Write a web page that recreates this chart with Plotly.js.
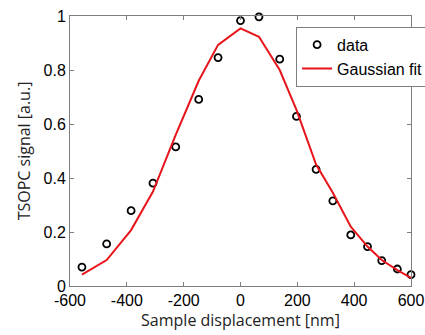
<!DOCTYPE html>
<html><head><meta charset="utf-8">
<script src="https://cdn.plot.ly/plotly-3.0.1.min.js"></script>
<style>html,body{margin:0;padding:0;background:#fff;}#chart{width:425px;height:335px;}</style>
</head><body><div id="chart"></div>
<script>
const dataX = [-558, -471, -385, -308, -228, -147, -79, 0, 65, 138, 197, 266, 325, 388, 447, 497, 552, 600];
const dataY = [0.07, 0.156, 0.279, 0.381, 0.515, 0.691, 0.846, 0.983, 0.997, 0.84, 0.628, 0.432, 0.315, 0.189, 0.146, 0.094, 0.063, 0.042];
const fitX = [-558, -471, -385, -308, -228, -147, -79, 0, 65, 138, 197, 266, 325, 388, 447, 497, 552, 600];
const fitY = [0.042, 0.096, 0.207, 0.35, 0.56, 0.76, 0.893, 0.954, 0.923, 0.80, 0.652, 0.45, 0.345, 0.22, 0.146, 0.096, 0.059, 0.03];
const xTicks = [-600, -400, -200, 0, 200, 400, 600];
const yTicks = [0, 0.2, 0.4, 0.6, 0.8, 1];

const traces = [
  {x: dataX, y: dataY, mode: 'markers', name: 'data', type: 'scatter', cliponaxis: false,
   marker: {symbol: 'circle-open', size: 7, color: '#000', line: {width: 1.8, color: '#000'}}},
  {x: fitX, y: fitY, mode: 'lines', name: 'Gaussian fit', type: 'scatter',
   line: {color: '#e8141b', width: 2}}
];
const axisCommon = {showgrid: false, zeroline: false, ticks: 'inside', ticklen: 4, tickcolor: '#7f7f7f',
  showline: true, linecolor: '#7f7f7f', linewidth: 1, mirror: 'ticks',
  tickfont: {family: 'Liberation Sans, Arial', size: 16, color: '#000'}};
const layout = {
  width: 425, height: 335,
  margin: {l: 70, r: 14, t: 16, b: 49, autoexpand: false},
  paper_bgcolor: '#fff', plot_bgcolor: '#fff',
  showlegend: true,
  legend: {x: 0.663, y: 0.96, xanchor: 'left', yanchor: 'top', bgcolor: '#fff', bordercolor: '#7f7f7f', borderwidth: 1,
    font: {family: 'Liberation Sans, Arial', size: 16, color: '#000'}, tracegroupgap: 0},
  xaxis: Object.assign({}, axisCommon, {range: [-600, 600], tickvals: xTicks, ticktext: xTicks.map(String),
    title: {text: 'Sample displacement [nm]', font: {family: 'Open Sans', size: 16, color: '#222'}, standoff: 4}}),
  yaxis: Object.assign({}, axisCommon, {range: [0, 1], tickvals: yTicks, ticktext: yTicks.map(String),
    title: {text: 'TSOPC signal [a.u.]', font: {family: 'Open Sans', size: 16, color: '#222'}, standoff: 8}})
};
Plotly.newPlot('chart', traces, layout, {staticPlot: true, displayModeBar: false});
</script></body></html>
